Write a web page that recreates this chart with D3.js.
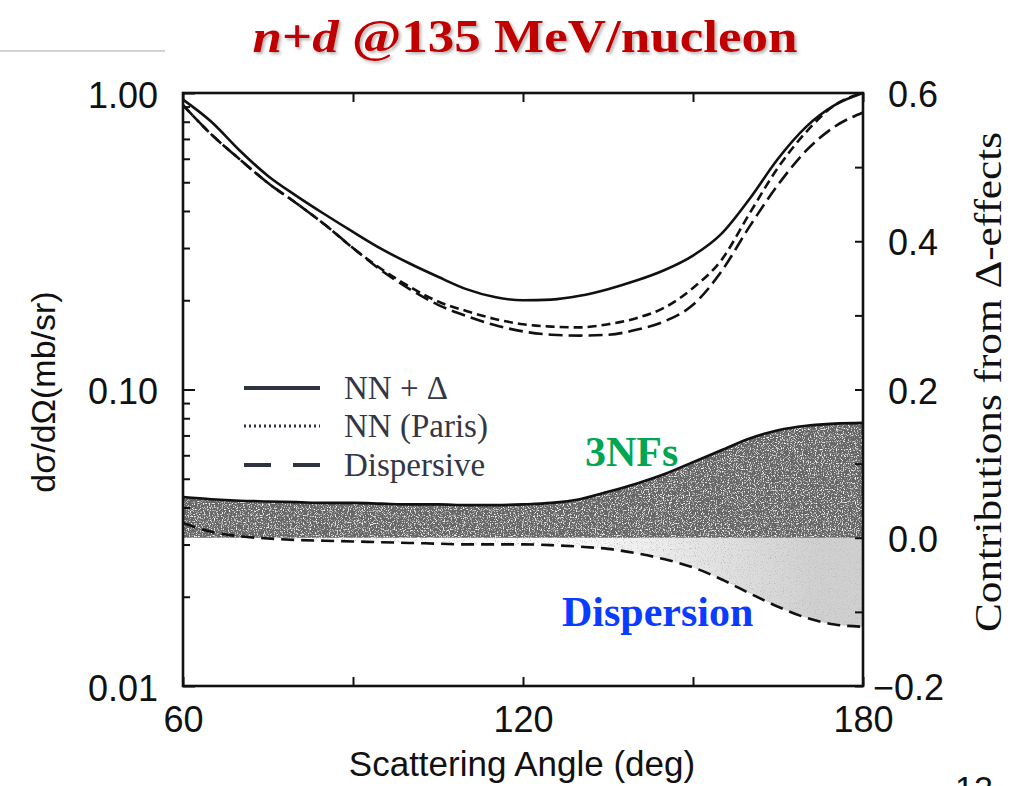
<!DOCTYPE html>
<html>
<head>
<meta charset="utf-8">
<script src="https://cdn.jsdelivr.net/npm/d3@7"></script>
<style>
  html, body { margin: 0; padding: 0; background: #fff; }
  svg { display: block; }
</style>
</head>
<body>
<script>
// ---------------- data ----------------
const angles      = [60, 65, 70, 75, 80, 85, 90, 95, 100, 105, 110, 115, 120, 125, 130, 135, 140, 145, 150, 155, 160, 165, 170, 175, 180];
// cross sections (mb/sr), left log axis
const nnDelta     = [0.95, 0.80, 0.64, 0.525, 0.45, 0.39, 0.34, 0.298, 0.266, 0.24, 0.218, 0.205, 0.200, 0.201, 0.207, 0.218, 0.233, 0.253, 0.283, 0.335, 0.44, 0.60, 0.77, 0.91, 1.0];
const nnParis     = [0.91, 0.725, 0.598, 0.497, 0.425, 0.36, 0.30, 0.255, 0.222, 0.198, 0.184, 0.173, 0.166, 0.163, 0.162, 0.166, 0.174, 0.189, 0.220, 0.273, 0.393, 0.56, 0.74, 0.91, 1.0];
const dispersive  = [0.91, 0.725, 0.598, 0.497, 0.425, 0.36, 0.30, 0.252, 0.218, 0.193, 0.177, 0.165, 0.157, 0.153, 0.152, 0.153, 0.159, 0.170, 0.193, 0.25, 0.355, 0.49, 0.64, 0.77, 0.86];
// contributions from Delta effects, right linear axis
const contrib3NF  = [0.055, 0.052, 0.050, 0.049, 0.048, 0.047, 0.047, 0.046, 0.045, 0.045, 0.044, 0.044, 0.045, 0.047, 0.052, 0.062, 0.073, 0.086, 0.102, 0.118, 0.134, 0.145, 0.151, 0.154, 0.155];
const contribDisp = [0.020, 0.008, 0.002, -0.001, -0.003, -0.004, -0.005, -0.006, -0.007, -0.008, -0.009, -0.009, -0.009, -0.010, -0.012, -0.015, -0.021, -0.029, -0.040, -0.056, -0.075, -0.093, -0.108, -0.117, -0.120];
// ticks
const xTicks      = [60, 90, 120, 150, 180];
const xTickLabels = ["60", "", "120", "", "180"];
const leftMajor   = [0.01, 0.1, 1];
const leftLabels  = ["0.01", "0.10", "1.00"];
const rightTicks  = [-0.2, -0.1, 0.0, 0.1, 0.2, 0.3, 0.4, 0.5, 0.6];
const rightLabels = ["\u22120.2", "", "0.0", "", "0.2", "", "0.4", "", "0.6"];
const legendNames = ["NN + \u0394", "NN (Paris)", "Dispersive"];

// ---------------- setup ----------------
const W = 1011, H = 786;
const L = 183, R = 863, T = 93, B = 686;
const sans = "'Liberation Sans', Arial, Helvetica, sans-serif";
const serif = "'Liberation Serif', 'Times New Roman', Times, serif";

const svg = d3.select("body").append("svg").attr("width", W).attr("height", H);
svg.append("rect").attr("width", W).attr("height", H).attr("fill", "#fff");

const defs = svg.append("defs");
const shadow = defs.append("filter").attr("id", "shadow").attr("x", "-5%").attr("y", "-20%").attr("width", "115%").attr("height", "150%");
shadow.append("feDropShadow").attr("dx", 2).attr("dy", 2).attr("stdDeviation", 1.5)
  .attr("flood-color", "#555").attr("flood-opacity", 0.45);

function grain(id, seed, freq, a, b, color) {
  const f = defs.append("filter").attr("id", id).attr("x", 0).attr("y", 0).attr("width", "100%").attr("height", "100%")
    .attr("filterUnits", "objectBoundingBox");
  f.append("feTurbulence").attr("type", "fractalNoise").attr("baseFrequency", freq).attr("numOctaves", 2).attr("seed", seed).attr("result", "noise");
  f.append("feColorMatrix").attr("in", "noise").attr("type", "matrix")
    .attr("values", `0 0 0 0 ${color} 0 0 0 0 ${color} 0 0 0 0 ${color} ${a} 0 0 0 ${b}`).attr("result", "speck");
  f.append("feComposite").attr("in", "speck").attr("in2", "SourceGraphic").attr("operator", "in").attr("result", "sp2");
  const m = f.append("feMerge");
  m.append("feMergeNode").attr("in", "SourceGraphic");
  m.append("feMergeNode").attr("in", "sp2");
}
grain("grainDark", 4, 0.85, 4, -2.1, 1);
grain("grainLight", 7, 0.85, 4, -2.2, 0.5);

const x  = d3.scaleLinear().domain([60, 180]).range([L, R]);
const yL = d3.scaleLog().domain([0.01, 1]).range([B, T]);
const yR = d3.scaleLinear().domain([-0.2, 0.6]).range([B, T]);

const lg = defs.append("linearGradient").attr("id", "lightGrad").attr("gradientUnits", "userSpaceOnUse")
  .attr("x1", x(125)).attr("x2", x(172)).attr("y1", 0).attr("y2", 0);
lg.append("stop").attr("offset", 0).attr("stop-color", "#ffffff");
lg.append("stop").attr("offset", 1).attr("stop-color", "#d0d0d0");

// decoration line top-left
svg.append("line").attr("x1", 0).attr("x2", 165).attr("y1", 51).attr("y2", 51)
  .attr("stroke", "#d4d4d4").attr("stroke-width", 2);

// title
const title = svg.append("text").attr("x", 525).attr("y", 52).attr("text-anchor", "middle")
  .attr("font-family", serif).attr("font-weight", "bold").attr("font-size", 46)
  .attr("fill", "#c00000").attr("filter", "url(#shadow)")
  .attr("textLength", 545).attr("lengthAdjust", "spacingAndGlyphs");
title.append("tspan").attr("font-style", "italic").text("n");
title.append("tspan").text("+");
title.append("tspan").attr("font-style", "italic").text("d");
title.append("tspan").text(" @135 MeV/nucleon");

// ---------------- bands (right axis) ----------------
const bandData = angles.map((a, i) => ({a, up: contrib3NF[i], dn: contribDisp[i]}));
const areaDisp = d3.area().x(d => x(d.a)).y0(yR(0)).y1(d => yR(d.dn)).curve(d3.curveMonotoneX);
const area3NF  = d3.area().x(d => x(d.a)).y0(yR(0)).y1(d => yR(d.up)).curve(d3.curveMonotoneX);

svg.append("path").datum(bandData).attr("d", areaDisp)
  .attr("fill", "url(#lightGrad)").attr("filter", "url(#grainLight)");
svg.append("path").datum(bandData).attr("d", area3NF)
  .attr("fill", "#666666").attr("filter", "url(#grainDark)");

const lineBand = key => d3.line().x(d => x(d.a)).y(d => yR(d[key])).curve(d3.curveMonotoneX);
svg.append("path").datum(bandData).attr("d", lineBand("up"))
  .attr("fill", "none").attr("stroke", "#111").attr("stroke-width", 2.6);
svg.append("path").datum(bandData).attr("d", lineBand("dn"))
  .attr("fill", "none").attr("stroke", "#111").attr("stroke-width", 2.6).attr("stroke-dasharray", "13,7");

// ---------------- cross-section curves (left axis) ----------------
const xsLine = d3.line().x(d => x(d[0])).y(d => yL(d[1])).curve(d3.curveMonotoneX);
const series = [
  {vals: nnDelta, dash: null},
  {vals: nnParis, dash: "9,5"},
  {vals: dispersive, dash: "14,6"}
];
series.forEach(s => {
  svg.append("path").datum(angles.map((a, i) => [a, s.vals[i]])).attr("d", xsLine)
    .attr("fill", "none").attr("stroke", "#111").attr("stroke-width", 2.6)
    .attr("stroke-dasharray", s.dash);
});

// ---------------- axes ----------------
const leftMinor = [];
for (let d = 0.01; d < 1; d *= 10) for (let k = 2; k <= 9; k++) leftMinor.push(+(k * d).toPrecision(2));

function styleAxis(g) {
  g.select(".domain").remove();
  g.selectAll("line").attr("stroke", "#111").attr("stroke-width", 2);
  g.selectAll("text").attr("font-family", sans).attr("font-size", 36).attr("fill", "#111");
}

// left minor ticks
svg.append("g").attr("transform", `translate(${L},0)`)
  .call(d3.axisLeft(yL).tickValues(leftMinor).tickSize(-7).tickFormat(() => ""))
  .call(styleAxis);
// left major
svg.append("g").attr("transform", `translate(${L},0)`)
  .call(d3.axisLeft(yL).tickValues(leftMajor).tickSize(-12).tickPadding(25)
    .tickFormat((d, i) => leftLabels[i]))
  .call(styleAxis)
  .selectAll("text").attr("dy", "0.40em");

// right
svg.append("g").attr("transform", `translate(${R},0)`)
  .call(d3.axisRight(yR).tickValues(rightTicks).tickSize(-8).tickPadding(25)
    .tickFormat((d, i) => rightLabels[i]))
  .call(styleAxis)
  .selectAll("text").attr("dy", "0.38em")
  .attr("dx", (d, i) => i === 0 ? -15 : 0);

// bottom
svg.append("g").attr("transform", `translate(0,${B})`)
  .call(d3.axisBottom(x).tickValues(xTicks).tickSize(-9).tickPadding(20)
    .tickFormat((d, i) => xTickLabels[i]))
  .call(styleAxis);
// top
svg.append("g").attr("transform", `translate(0,${T})`)
  .call(d3.axisTop(x).tickValues(xTicks).tickSize(-9).tickFormat(() => ""))
  .call(styleAxis);

// frame
svg.append("rect").attr("x", L).attr("y", T).attr("width", R - L).attr("height", B - T)
  .attr("fill", "none").attr("stroke", "#111").attr("stroke-width", 2.6);

// axis titles
svg.append("text").attr("x", 522).attr("y", 776).attr("text-anchor", "middle")
  .attr("font-family", sans).attr("font-size", 35).attr("fill", "#111")
  .text("Scattering Angle (deg)");

svg.append("text").attr("transform", "translate(55,392) rotate(-90)").attr("text-anchor", "middle")
  .attr("font-family", sans).attr("font-size", 34).attr("fill", "#111")
  .text("d\u03c3/d\u03a9(mb/sr)");

svg.append("text").attr("transform", "translate(1001,382) rotate(-90)").attr("text-anchor", "middle")
  .attr("font-family", serif).attr("font-size", 38).attr("fill", "#111")
  .attr("textLength", 500).attr("lengthAdjust", "spacingAndGlyphs")
  .text("Contributions from \u0394-effects");

// ---------------- legend ----------------
const legY = [388, 426, 465];
const legDash = [null, "2,3", "27,22"];
legendNames.forEach((name, i) => {
  svg.append("line").attr("x1", 244).attr("x2", 320).attr("y1", legY[i]).attr("y2", legY[i])
    .attr("stroke", "#2f3340").attr("stroke-width", i === 1 ? 3 : 4).attr("stroke-dasharray", legDash[i]);
  svg.append("text").attr("x", 344).attr("y", legY[i] + 11)
    .attr("font-family", serif).attr("font-size", 33).attr("fill", "#333745")
    .text(name);
});

// annotations
svg.append("text").attr("x", 585).attr("y", 466).attr("font-family", serif).attr("font-weight", "bold")
  .attr("font-size", 42).attr("fill", "#00a651").text("3NFs");
svg.append("text").attr("x", 562).attr("y", 626).attr("font-family", serif).attr("font-weight", "bold")
  .attr("font-size", 42).attr("fill", "#0a3cff").text("Dispersion");

// page number (partially cut off at the bottom edge, as on the slide)
svg.append("text").attr("x", 955).attr("y", 800).attr("font-family", sans)
  .attr("font-size", 34).attr("fill", "#111").text("12");
</script>
</body>
</html>
